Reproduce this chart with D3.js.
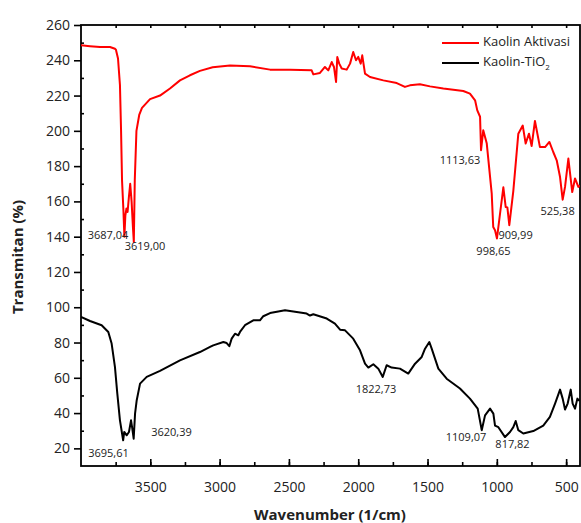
<!DOCTYPE html>
<html>
<head>
<meta charset="utf-8">
<script src="https://cdn.jsdelivr.net/npm/d3@7"></script>
<style>
  body { margin: 0; background: #fff; }
  text { font-family: "Open Sans", sans-serif; fill: #222; }
</style>
</head>
<body>
<svg id="chart"></svg>
<script>
// wavenumber (1/cm) and transmitance (%)
const aktivasiWn = [4000, 3935, 3863, 3791, 3755, 3748, 3733, 3719, 3711, 3704, 3694, 3687, 3680, 3672, 3664, 3655, 3645, 3635, 3625, 3619, 3612, 3600, 3580, 3560, 3502, 3430, 3358, 3286, 3214, 3142, 3050, 2925, 2781, 2636, 2492, 2336, 2324, 2276, 2240, 2216, 2191, 2175, 2160, 2151, 2137, 2119, 2083, 2059, 2036, 2016, 2000, 1982, 1971, 1951, 1915, 1819, 1722, 1663, 1627, 1555, 1482, 1386, 1242, 1194, 1157, 1141, 1121, 1114, 1098, 1073, 1037, 1026, 1013, 999, 977, 953, 936, 924, 910, 881, 845, 813, 792, 768, 749, 725, 689, 652, 621, 593, 568, 544, 525, 508, 484, 456, 436, 412, 400];
const aktivasiT  = [248.5, 248, 247.5, 247.5, 246.5, 246, 241, 226, 200, 172, 155, 140, 152, 156, 154, 162, 170, 160, 145, 137, 172, 200, 209, 213, 218, 220, 224, 228.6, 231.5, 234, 236, 237, 236.6, 234.7, 234.7, 234.3, 232, 232.8, 236.2, 234.3, 239, 236.2, 227.7, 241.9, 238.1, 235.3, 234.7, 238.1, 244.7, 240, 241.9, 238.1, 242.8, 232.4, 230.5, 228.6, 227.1, 224.9, 225.8, 226.4, 225.2, 224, 222.6, 221.1, 217.3, 211.6, 208, 189, 200.3, 193, 164.6, 145.5, 143.6, 139, 153, 168, 156.8, 156.6, 146.5, 166, 198.4, 203, 192.8, 198.4, 191.4, 205.6, 190.8, 190.8, 193.7, 188, 183.3, 173.8, 161, 168.2, 184.3, 165.3, 173, 168.2, 169];

const tio2Wn = [4000, 3935, 3851, 3803, 3779, 3755, 3738, 3719, 3696, 3688, 3670, 3654, 3639, 3630, 3620, 3610, 3598, 3574, 3526, 3430, 3286, 3142, 3069, 3046, 2973, 2949, 2930, 2913, 2889, 2865, 2853, 2817, 2757, 2709, 2685, 2636, 2528, 2444, 2372, 2348, 2324, 2227, 2168, 2131, 2095, 2036, 1987, 1951, 1927, 1891, 1855, 1823, 1795, 1759, 1699, 1639, 1590, 1542, 1518, 1487, 1470, 1422, 1362, 1266, 1194, 1138, 1109, 1085, 1049, 1025, 1013, 989, 941, 905, 881, 864, 845, 809, 737, 665, 617, 580, 544, 525, 508, 489, 467, 453, 436, 419, 404];
const tio2T  = [94.5, 92.2, 89.8, 86, 79.4, 66.1, 51, 35.9, 24.6, 29.3, 27.4, 29.3, 35.9, 31.2, 25.5, 39.7, 47.3, 56.7, 60.5, 63.9, 69.9, 74.6, 77.5, 78.4, 80.3, 79.7, 77.9, 82.2, 85, 84.1, 86, 89.8, 92.6, 92.6, 94.9, 96.7, 98.3, 97.3, 96.4, 95.3, 96, 93.6, 90.7, 87.3, 86.9, 82.2, 75.6, 68, 65.8, 67.7, 65.2, 60.5, 67.1, 65.8, 65.2, 62.4, 68, 71.8, 76.5, 80.3, 76.5, 65.2, 59.5, 53.9, 48.2, 42.5, 30.3, 38.7, 42.5, 39.7, 32.9, 32, 26.4, 29.3, 32, 35.5, 30.3, 28.4, 29.8, 32.9, 37.8, 45.4, 53.3, 48.2, 42, 45.4, 53.3, 45.4, 42.5, 48.2, 46.9];

const xTicks = [3500, 3000, 2500, 2000, 1500, 1000, 500];
const yTicks = [20, 40, 60, 80, 100, 120, 140, 160, 180, 200, 220, 240, 260];

// peak labels: [text, wavenumber, transmitance]
const peakLabels = [
  ["3687,04", 3805, 140.5],
  ["3619,00", 3538, 134],
  ["1113,63", 1266, 183],
  ["998,65", 1024, 131],
  ["909,99", 865, 140.5],
  ["525,38", 562, 154],
  ["3695,61", 3802, 16.7],
  ["3620,39", 3347, 28.5],
  ["1822,73", 1872, 53],
  ["1109,07", 1222, 25.7],
  ["817,82", 887, 21.7]
];

const series = [
  { name: "Kaolin Aktivasi", color: "#ff0000", wn: aktivasiWn, t: aktivasiT },
  { name: "Kaolin-TiO", sub: "2", color: "#000000", wn: tio2Wn, t: tio2T }
];

const W = 581, H = 523;
const m = { left: 81, right: 1, top: 25, bottom: 57 };

const svg = d3.select("#chart").attr("width", W).attr("height", H);

const x = d3.scaleLinear().domain([4000, 400]).range([m.left, W - m.right]);
const y = d3.scaleLinear().domain([10, 260]).range([H - m.bottom, m.top]);

const xMinor = d3.range(3750, 400, -250);
const yMinor = d3.range(30, 260, 20);

// bottom axis, ticks pointing inside
svg.append("g")
  .attr("transform", "translate(0," + (H - m.bottom) + ")")
  .call(d3.axisBottom(x).tickValues(xMinor).tickSize(-4).tickFormat(""))
  .call(g => g.select(".domain").remove());
svg.append("g")
  .attr("class", "xaxis")
  .attr("transform", "translate(0," + (H - m.bottom) + ")")
  .call(d3.axisBottom(x).tickValues(xTicks).tickSize(-7).tickPadding(16).tickFormat(d3.format("d")))
  .call(g => g.select(".domain").remove())
  .call(g => g.selectAll("text").style("font-size", "14px").style("font-family", "Open Sans"));

// top ticks
svg.append("g")
  .attr("transform", "translate(0," + m.top + ")")
  .call(d3.axisTop(x).tickValues(xMinor).tickSize(-3).tickFormat(""))
  .call(g => g.select(".domain").remove());

// left axis
svg.append("g")
  .attr("transform", "translate(" + m.left + ",0)")
  .call(d3.axisLeft(y).tickValues(yTicks).tickSize(7).tickPadding(4))
  .call(g => g.select(".domain").remove())
  .call(g => g.selectAll("text").style("font-size", "14px").style("font-family", "Open Sans"));
svg.append("g")
  .attr("transform", "translate(" + m.left + ",0)")
  .call(d3.axisLeft(y).tickValues(yMinor).tickSize(-3).tickFormat(""))
  .call(g => g.select(".domain").remove());

svg.selectAll(".tick line").attr("stroke", "#000").attr("stroke-width", 1.6);

// frame
svg.append("rect")
  .attr("x", m.left).attr("y", m.top)
  .attr("width", W - m.right - m.left).attr("height", H - m.bottom - m.top)
  .attr("fill", "none").attr("stroke", "#000").attr("stroke-width", 1.8);

const line = d3.line().x(d => x(d[0])).y(d => y(d[1]));

svg.append("defs").append("clipPath").attr("id", "clip")
  .append("rect").attr("x", m.left).attr("y", m.top)
  .attr("width", W - m.right - m.left).attr("height", H - m.bottom - m.top);

series.forEach(s => {
  svg.append("path")
    .datum(d3.zip(s.wn, s.t))
    .attr("clip-path", "url(#clip)")
    .attr("fill", "none")
    .attr("stroke", s.color)
    .attr("stroke-width", 2)
    .attr("stroke-linejoin", "round")
    .attr("d", line);
});

// peak labels
svg.selectAll(".peak")
  .data(peakLabels)
  .join("text")
  .attr("class", "peak")
  .attr("x", d => x(d[1]))
  .attr("y", d => y(d[2]))
  .attr("text-anchor", "middle")
  .attr("dominant-baseline", "middle")
  .style("font-size", "11px")
  .text(d => d[0]);

// legend
const leg = svg.append("g").attr("transform", "translate(442,43)");
series.forEach((s, i) => {
  const g = leg.append("g").attr("transform", "translate(0," + i * 20 + ")");
  g.append("line").attr("x1", 0).attr("x2", 37).attr("y1", 0).attr("y2", 0)
    .attr("stroke", s.color).attr("stroke-width", 2);
  const t = g.append("text").attr("x", 41).attr("y", 0)
    .attr("dominant-baseline", "middle").style("font-size", "13px").text(s.name);
  if (s.sub) t.append("tspan").attr("dy", 5).style("font-size", "8px").text(s.sub);
});

// axis titles
svg.append("text")
  .attr("x", 330).attr("y", 520)
  .attr("text-anchor", "middle")
  .style("font-size", "15px").style("font-weight", "bold")
  .text("Wavenumber (1/cm)");

svg.append("text")
  .attr("transform", "translate(23,257) rotate(-90)")
  .attr("text-anchor", "middle")
  .style("font-size", "15px").style("font-weight", "bold")
  .text("Transmitan (%)");
</script>
</body>
</html>
